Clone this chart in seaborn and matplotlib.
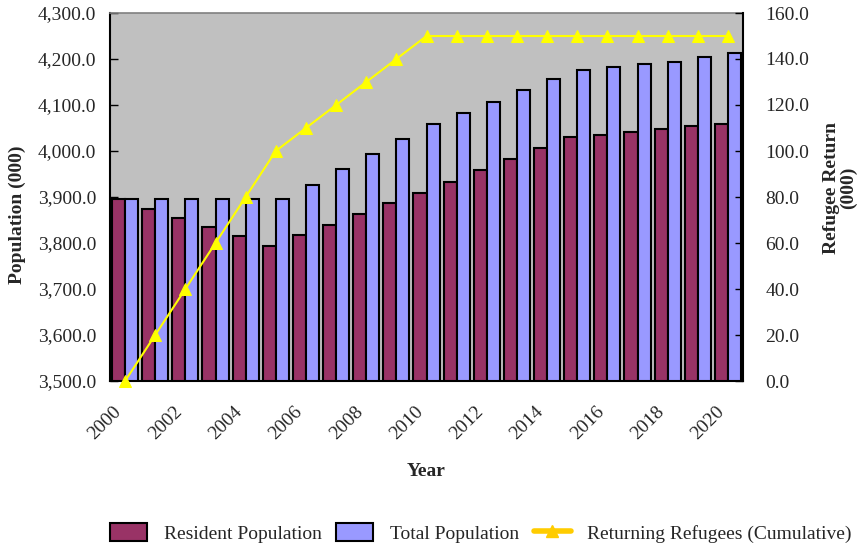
import numpy as np
import pandas as pd
import matplotlib
matplotlib.use("Agg")
import matplotlib.pyplot as plt
import seaborn as sns
from matplotlib.patches import Patch
from matplotlib.lines import Line2D

# ---- data ----
years = [str(y) for y in range(2000, 2021)]
resident = [3895, 3874, 3854, 3835, 3815, 3794, 3818, 3839, 3864, 3888, 3909,
            3933, 3958, 3982, 4006, 4031, 4034, 4041, 4048, 4055, 4059]
total = [3895, 3895, 3895, 3895, 3895, 3895, 3926, 3961, 3993, 4027, 4059,
         4083, 4107, 4132, 4156, 4176, 4183, 4190, 4194, 4204, 4212]
refugees = [0, 20, 40, 60, 80, 100, 110, 120, 130, 140, 150,
            150, 150, 150, 150, 150, 150, 150, 150, 150, 150]
series_names = ["Resident Population", "Total Population"]
line_name = "Returning Refugees (Cumulative)"
left_ticks = [3500, 3600, 3700, 3800, 3900, 4000, 4100, 4200, 4300]
right_ticks = [0, 20, 40, 60, 80, 100, 120, 140, 160]

bar_colors = ["#993366", "#9999FF"]
line_color = "#FFFF00"

df = pd.DataFrame({
    "Year": years * 2,
    "Series": [series_names[0]] * len(years) + [series_names[1]] * len(years),
    "Value": resident + total,
})
df_line = pd.DataFrame({"Year": years, "Refugees": refugees})

sns.set_theme(style="white")
plt.rcParams["font.family"] = ["Liberation Serif", "DejaVu Serif"]

fig = plt.figure(figsize=(8.64, 5.47), dpi=100)
ax = fig.add_axes([110 / 864, 1 - 381 / 547, 633 / 864, 368 / 547])
ax.set_facecolor("#C0C0C0")

sns.barplot(data=df, x="Year", y="Value", hue="Series", palette=bar_colors,
            edgecolor="black", linewidth=1.5, width=0.87, ax=ax, legend=False,
            saturation=1)

ax.set_ylim(3500, 4300)
ax.set_yticks(left_ticks)
ax.set_yticklabels([f"{v:,.1f}" for v in left_ticks], fontsize=14)
ax.set_xlim(-0.5, len(years) - 0.5)

pos = np.arange(len(years))
ax.set_xticks(pos[::2])
ax.set_xticklabels(years[::2], rotation=45, ha="right", va="top",
                   rotation_mode="default", fontsize=14)
ax.set_xticks(np.arange(len(years) + 1) - 0.5, minor=True)
ax.tick_params(axis="x", which="major", length=0, pad=16)
ax.tick_params(axis="x", which="minor", direction="in", length=5, width=1, color="black")
ax.tick_params(axis="y", direction="in", length=6, width=1, color="black", pad=10, left=True)
ax.set_xlabel("Year", fontsize=14, fontweight="bold", labelpad=14)
ax.set_ylabel("")
fig.text(17 / 864, 1 - 215 / 547, "Population (000)", rotation=90, fontsize=14,
         fontweight="bold", ha="center", va="center")

for s in ["left", "bottom"]:
    ax.spines[s].set_color("black")
    ax.spines[s].set_linewidth(1.5)
ax.spines["top"].set_color("#808080")
ax.spines["top"].set_linewidth(1.2)
ax.spines["right"].set_visible(False)

ax2 = ax.twinx()
sns.lineplot(data=df_line, x="Year", y="Refugees", ax=ax2, color=line_color,
             marker="^", markersize=9, markeredgecolor=line_color, linewidth=1.5,
             clip_on=False, legend=False, zorder=5)
ax2.set_ylim(0, 160)
ax2.set_yticks(right_ticks)
ax2.set_yticklabels([f"{v:.1f}" for v in right_ticks], fontsize=14)
ax2.tick_params(axis="y", direction="in", length=6, width=1, color="black", pad=16, right=True)
ax2.set_ylabel("")
ax2.set_xlabel("")
for s in ["left", "top", "bottom"]:
    ax2.spines[s].set_visible(False)
ax2.spines["right"].set_color("black")
ax2.spines["right"].set_linewidth(1.5)
ax2.set_xlim(-0.5, len(years) - 0.5)
fig.text(840 / 864, 1 - 188 / 547, "Refugee Return\n(000)", rotation=90, fontsize=14,
         fontweight="bold", ha="center", va="center", linespacing=1.0)

handles = [
    Patch(facecolor=bar_colors[0], edgecolor="black", linewidth=1.5, label=series_names[0]),
    Patch(facecolor=bar_colors[1], edgecolor="black", linewidth=1.5, label=series_names[1]),
    Line2D([0], [0], color="#FFCC00", linewidth=4, marker="^", markersize=9,
           markerfacecolor="#FFCC00", markeredgecolor="#FFCC00", label=line_name),
]
fig.legend(handles=handles, loc="center", bbox_to_anchor=(481 / 864, 1 - 533 / 547), ncol=3,
           frameon=False, fontsize=14, handlelength=1.9, handleheight=1.0,
           handletextpad=0.85, columnspacing=0.75, borderpad=0.2)

fig.savefig("out.png", dpi=100)
